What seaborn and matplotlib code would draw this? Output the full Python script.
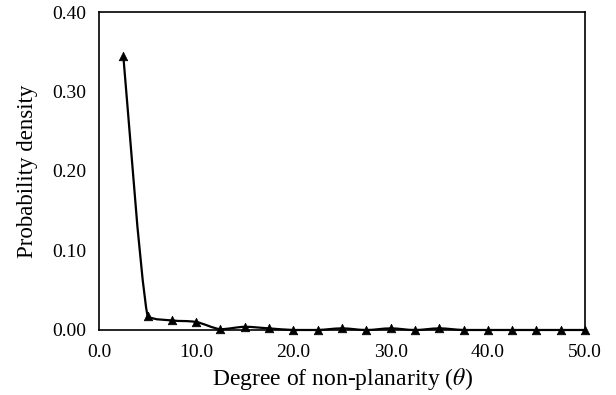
import numpy as np
import pandas as pd
import matplotlib
matplotlib.use("Agg")
import matplotlib.pyplot as plt
from matplotlib.path import Path
from matplotlib.patches import PathPatch
import seaborn as sns

sns.set_theme(style="white")
plt.rcParams['font.family'] = ['Liberation Serif', 'DejaVu Serif']
plt.rcParams['mathtext.fontset'] = 'stix'

# data
theta = [2.5, 5.0, 7.5, 10.0, 12.5, 15.0, 17.5, 20.0, 22.5, 25.0,
         27.5, 30.0, 32.5, 35.0, 37.5, 40.0, 42.5, 45.0, 47.5, 50.0]
density = [0.345, 0.017, 0.012, 0.010, 0.001, 0.004, 0.002, 0.000, 0.000, 0.002,
           0.000, 0.002, 0.000, 0.002, 0.000, 0.000, 0.000, 0.000, 0.000, 0.000]
x_ticks = [0, 10, 20, 30, 40, 50]
y_ticks = [0.0, 0.1, 0.2, 0.3, 0.4]

df = pd.DataFrame({'theta': theta, 'density': density})

fig = plt.figure(figsize=(6.16, 3.95), dpi=100)
ax = fig.add_axes([0.1607, 0.1646, 0.789, 0.805])

# smoothed line (spreadsheet-style bezier through the points,
# control points kept between the segment ends so it doesn't overshoot)
pts = df[['theta', 'density']].to_numpy()
verts = [tuple(pts[0])]
codes = [Path.MOVETO]
n = len(pts)
for i in range(n - 1):
    p_prev = pts[i - 1] if i > 0 else pts[i]
    p_next = pts[i + 2] if i + 2 < n else pts[i + 1]
    c1 = pts[i] + (pts[i + 1] - p_prev) / 6
    c2 = pts[i + 1] - (p_next - pts[i]) / 6
    lo, hi = sorted([pts[i][1], pts[i + 1][1]])
    c1[1] = np.clip(c1[1], lo, hi)
    c2[1] = np.clip(c2[1], lo, hi)
    verts += [tuple(c1), tuple(c2), tuple(pts[i + 1])]
    codes += [Path.CURVE4] * 3
ax.add_patch(PathPatch(Path(verts, codes), facecolor='none', edgecolor='black',
                       lw=1.6, zorder=3, clip_on=False))

sns.scatterplot(data=df, x='theta', y='density', marker='^', color='black',
                s=38, edgecolor='black', linewidth=0.5, zorder=4, clip_on=False, ax=ax)

ax.set_xlim(0, 50)
ax.set_ylim(0, 0.40)
ax.set_xticks(x_ticks)
ax.set_yticks(y_ticks)
ax.set_xticklabels([f'{v:.1f}' for v in x_ticks])
ax.set_yticklabels([f'{v:.2f}' for v in y_ticks])
ax.tick_params(direction='in', length=4, width=1, colors='black', labelsize=14)
ax.tick_params(axis='x', pad=10)
ax.tick_params(axis='y', pad=9)

for s in ax.spines.values():
    s.set_color('black')
    s.set_linewidth(1.2)

ax.set_xlabel(r'Degree of non-planarity ($\theta$)', fontsize=17, color='black', labelpad=4)
ax.set_ylabel('Probability density', fontsize=16.5, color='black', labelpad=10)
ax.grid(False)

fig.savefig('out.png', dpi=100, facecolor='white')
